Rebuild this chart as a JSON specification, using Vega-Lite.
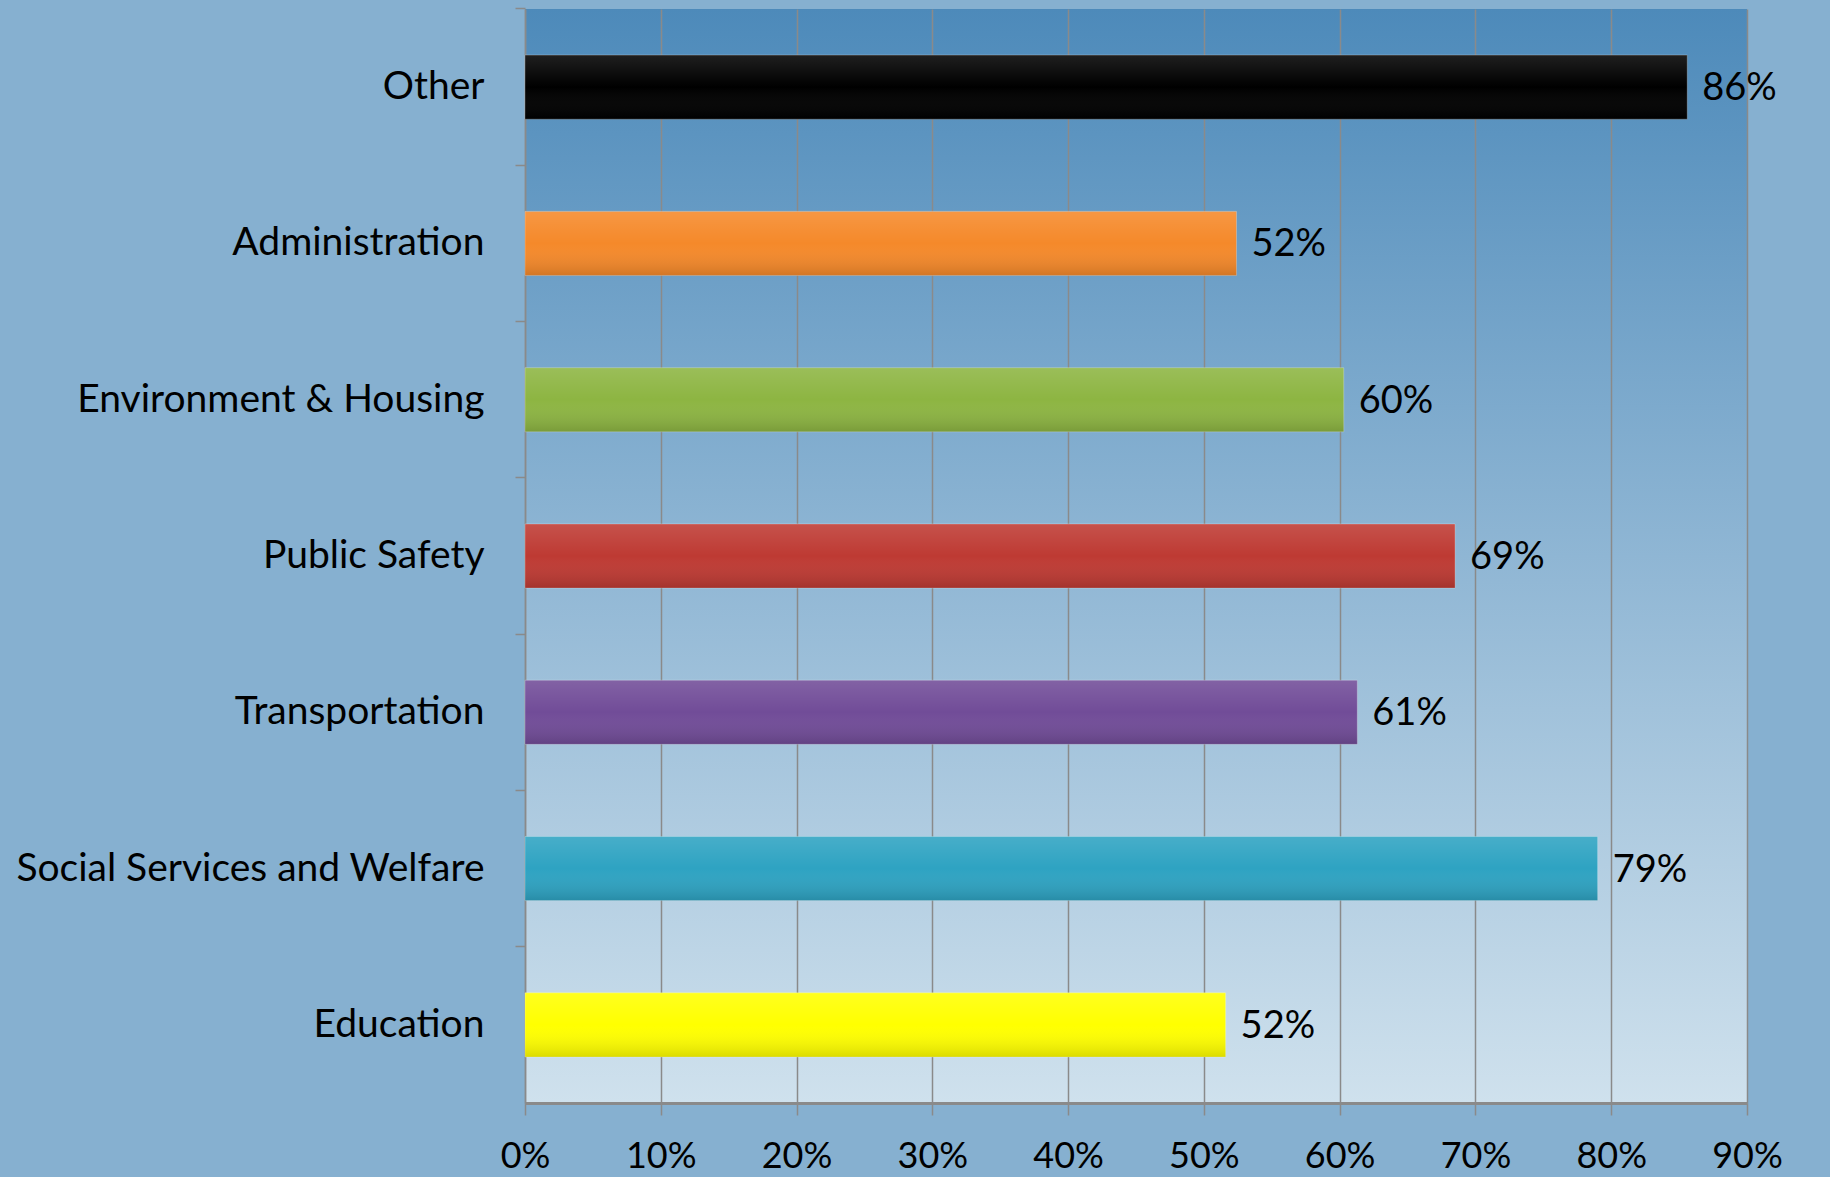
{
  "$schema": "https://vega.github.io/schema/vega-lite/v6.json",
  "autosize": {"type": "none"},
  "padding": {"left": 525, "top": 9, "right": 83, "bottom": 74},
  "width": 1222,
  "height": 1094,
  "background": "#86b0d0",
  "config": {
    "view": {
      "stroke": null,
      "fill": {"gradient": "linear", "x1": 0, "y1": 0, "x2": 0, "y2": 1, "stops": [{"offset": 0, "color": "#4d8aba"}, {"offset": 0.5, "color": "#8fb6d4"}, {"offset": 1, "color": "#cfe1ed"}]}
    },
    "font": "Lato",
    "axis": {"labelFont": "Lato", "labelColor": "#000000", "labelFontSize": 35, "domainColor": "#8a8a8a", "tickColor": "#8a8a8a", "gridColor": "#8a8a8a"}
  },
  "data": {
    "values": [
      {"category": "Other", "share": 0.856, "color": "#000000"},
      {"category": "Administration", "share": 0.524, "color": "#f5892a"},
      {"category": "Environment & Housing", "share": 0.603, "color": "#8db542"},
      {"category": "Public Safety", "share": 0.685, "color": "#be3a33"},
      {"category": "Transportation", "share": 0.613, "color": "#714c98"},
      {"category": "Social Services and Welfare", "share": 0.79, "color": "#2ea3c2"},
      {"category": "Education", "share": 0.516, "color": "#ffff00"}
    ]
  },
  "encoding": {
    "y": {
      "field": "category", "type": "nominal", "sort": null,
      "scale": {"paddingInner": 0.59, "paddingOuter": 0.295},
      "axis": {"title": null, "domainWidth": 1.5, "tickSize": 10, "tickWidth": 1.5, "bandPosition": -0.72, "labelPadding": 31, "labelLimit": 600, "labelFontSize": 39, "grid": false}
    },
    "x": {
      "field": "share", "type": "quantitative",
      "scale": {"domain": [0, 0.9], "nice": false},
      "axis": {"title": null, "format": ".0%", "values": [0, 0.1, 0.2, 0.3, 0.4, 0.5, 0.6, 0.7, 0.8, 0.9], "grid": true, "gridWidth": 1.5, "domainWidth": 3, "tickSize": 12, "tickWidth": 1.5, "labelPadding": 24, "labelFlush": false, "labelFontSize": 36}
    }
  },
  "layer": [
    {
      "mark": {"type": "bar", "stroke": "#ffffff", "strokeOpacity": 0.25, "strokeWidth": 1},
      "encoding": {"color": {"field": "color", "type": "nominal", "scale": null, "legend": null}}
    },
    {
      "mark": {"type": "bar", "fill": {"gradient": "linear", "x1": 0, "y1": 0, "x2": 0, "y2": 1, "stops": [{"offset": 0, "color": "rgba(255,255,255,0.12)"}, {"offset": 0.5, "color": "rgba(255,255,255,0)"}, {"offset": 1, "color": "rgba(0,0,0,0.14)"}]}}
    },
    {
      "mark": {"type": "text", "align": "left", "baseline": "middle", "dx": 15, "dy": 2, "fontSize": 38, "font": "Lato", "color": "#000000"},
      "encoding": {"text": {"field": "share", "type": "quantitative", "format": ".0%"}}
    }
  ]
}
